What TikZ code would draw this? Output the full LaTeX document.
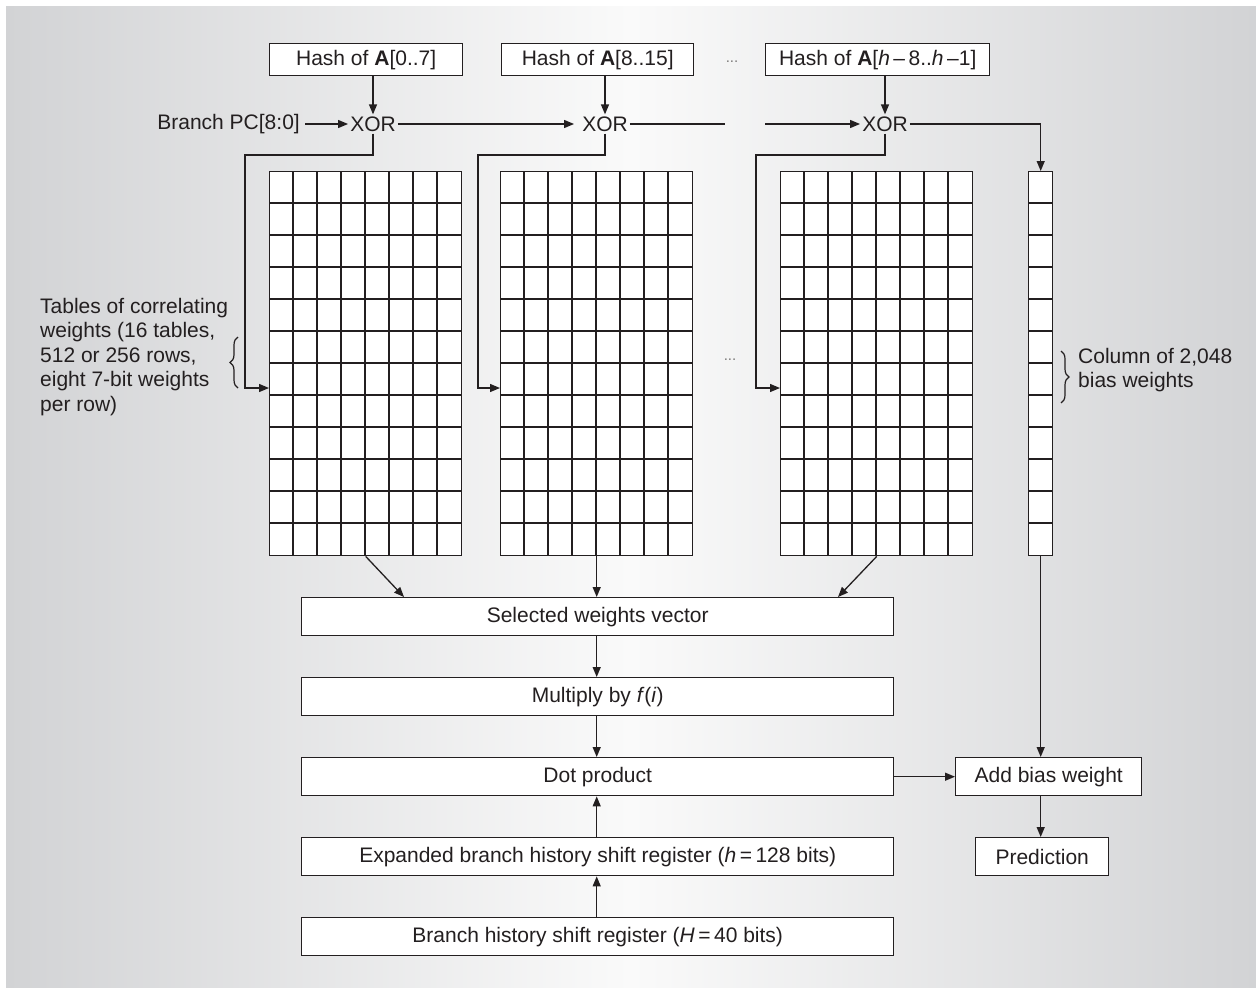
\documentclass[tikz,border=0pt]{standalone}
\usepackage{fontspec}
\setmainfont{Liberation Sans}
\usetikzlibrary{arrows.meta,decorations.pathreplacing}
\definecolor{ink}{HTML}{231F20}
\definecolor{edgegray}{HTML}{D2D3D5}
\definecolor{midgray}{HTML}{FAFAFA}
\begin{document}
\begin{tikzpicture}[x=1pt,y=-1pt,
  font=\fontsize{21}{24.5}\selectfont, text=ink,
  line/.style={draw=ink,line width=1.3pt},
  arr/.style={line,-{Triangle[length=10pt,width=8pt]}},
  box/.style={draw=ink,line width=1.4pt,fill=white,inner sep=0pt,anchor=north west},
  gridl/.style={draw=ink,line width=1.6pt},
  xorn/.style={inner sep=2pt},
  dotsn/.style={text=ink!60,font=\fontsize{15}{15}\selectfont},
  bracel/.style={draw=ink,line width=1.2pt,decorate,decoration={brace,amplitude=8pt}},
]
\useasboundingbox (0,0) rectangle (1256,988);
\shade[left color=edgegray,right color=edgegray,middle color=midgray] (6,6) rectangle (1256,988);

% hash boxes
\node[box,minimum width=193pt,minimum height=32pt] (h1) at (269,43) {Hash of \textbf{A}[0..7]};
\node[box,minimum width=192pt,minimum height=32pt] (h2) at (501,43) {Hash of \textbf{A}[8..15]};
\node[box,minimum width=224pt,minimum height=32pt] (h3) at (765,43) {Hash of \textbf{A}[\textit{h}\,–\,8..\textit{h}\,–1]};
\node[dotsn] (d1) at (732,62) {...};

% XORs
\node[xorn] (x1) at (373,124) {XOR};
\node[xorn] (x2) at (605,124) {XOR};
\node[xorn] (x3) at (885,124) {XOR};
\node[anchor=east,inner sep=0pt] (pc) at (300,124) {Branch PC[8:0]};

% tables
\foreach \n/\x in {t1/269,t2/500,t3/780}{
  \node[box,minimum width=192pt,minimum height=384pt] (\n) at (\x,171) {};
  \foreach \i in {1,...,7} \draw[gridl] (\x+24*\i,171) -- ++(0,384);
  \foreach \j in {1,...,11} \draw[gridl] (\x,171+32*\j) -- ++(192,0);
}
\node[box,minimum width=24pt,minimum height=384pt] (bias) at (1028,171) {};
\foreach \j in {1,...,11} \draw[gridl] (1028,171+32*\j) -- ++(24,0);
\node[dotsn] (d2) at (730,360) {...};

% labels
\node[anchor=west,align=left,inner sep=0pt] (lbl) at (40,357) {Tables of correlating\\weights (16 tables,\\512 or 256 rows,\\eight 7-bit weights\\per row)};
\node[anchor=west,align=left,inner sep=0pt] (rbl) at (1078,370) {Column of 2,048\\bias weights};
\coordinate (lb1) at (238,388); \coordinate (lb2) at (238,337);
\draw[bracel] (lb1) -- (lb2);
\coordinate (rb1) at (1061,351); \coordinate (rb2) at (1061,403);
\draw[bracel] (rb1) -- (rb2);

% lower boxes
\node[box,minimum width=592pt,minimum height=38pt] (sel) at (301,597) {Selected weights vector};
\node[box,minimum width=592pt,minimum height=38pt] (mul) at (301,677) {Multiply by \textit{f}(\textit{i})};
\node[box,minimum width=592pt,minimum height=38pt] (dot) at (301,757) {Dot product};
\node[box,minimum width=592pt,minimum height=38pt] (exp) at (301,837) {Expanded branch history shift register (\textit{h}\,=\,128 bits)};
\node[box,minimum width=592pt,minimum height=38pt] (bhr) at (301,917) {Branch history shift register (\textit{H}\,=\,40 bits)};
\node[box,minimum width=186pt,minimum height=38pt] (add) at (955,757) {Add bias weight};
\node[box,minimum width=133pt,minimum height=38pt] (pred) at (975,837) {Prediction};

% connectors top
\draw[arr] (h1.south -| x1) -- (x1.north);
\draw[arr] (h2.south -| x2) -- (x2.north);
\draw[arr] (h3.south -| x3) -- (x3.north);
\draw[arr] ([xshift=5pt]pc.east) -- (x1.west);
\draw[arr] (x1.east) -- ([xshift=-6pt]x2.west);
\coordinate (g1) at (725,124); \coordinate (g2) at (765,124);
\draw[line] (x2.east) -- (g1);
\draw[arr] (g2) -- (x3.west);
\draw[arr] (x3.east) -| (bias.north);

\coordinate (c1) at (245,155); \coordinate (in1) at (269,388);
\coordinate (c2) at (478,155); \coordinate (in2) at (500,388);
\coordinate (c3) at (756,155); \coordinate (in3) at (780,388);
\draw[arr] (x1.south) |- (c1) |- (in1);
\draw[arr] (x2.south) |- (c2) |- (in2);
\draw[arr] (x3.south) |- (c3) |- (in3);

% tables to selected
\coordinate (s1) at (404,597);
\coordinate (s3) at (838,597);
\draw[arr] (t1.south) -- (s1);
\draw[arr] (t2.south) -- (t2.south |- sel.north);
\draw[arr] (t3.south) -- (s3);

\draw[arr] (sel.south -| t2.south) -- (mul.north -| t2.south);
\draw[arr] (mul.south -| t2.south) -- (dot.north -| t2.south);
\draw[arr] (exp.north -| t2.south) -- (dot.south -| t2.south);
\draw[arr] (bhr.north -| t2.south) -- (exp.south -| t2.south);
\draw[arr] (dot.east) -- (add.west);
\draw[arr] (bias.south) -- (bias.south |- add.north);
\draw[arr] (add.south -| bias.south) -- (pred.north -| bias.south);
\end{tikzpicture}
\end{document}
